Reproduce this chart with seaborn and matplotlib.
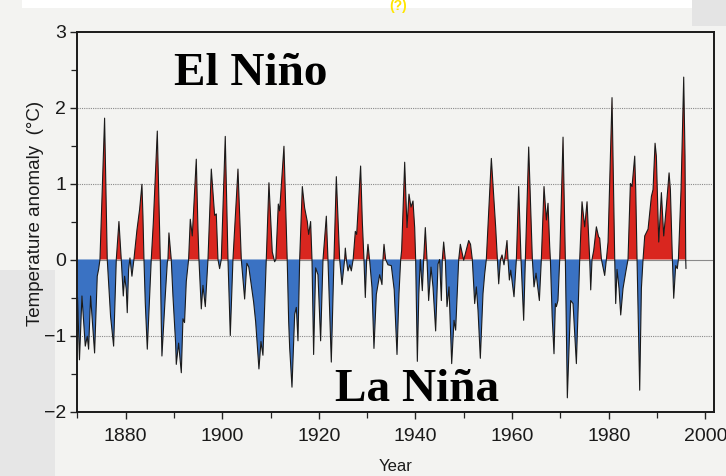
import numpy as np
import pandas as pd
import matplotlib
matplotlib.use("Agg")
import matplotlib.pyplot as plt
from matplotlib.patches import Rectangle
from matplotlib.ticker import MultipleLocator
import seaborn as sns

# Sea-surface temperature anomaly record: turning points of the series
years = [
    1870.05, 1870.45, 1870.96, 1871.65, 1872.06, 1872.34, 1872.75, 1873.58, 1874.13, 1874.41,
    1874.69, 1875.65, 1876.20, 1876.89, 1877.52, 1878.07, 1878.62, 1879.10, 1879.52, 1879.79,
    1880.14, 1880.34, 1880.62, 1880.90, 1881.31, 1881.72, 1881.86, 1882.35, 1882.90, 1883.38,
    1883.59, 1883.80, 1884.07, 1884.49, 1885.31, 1885.73, 1886.56, 1887.18, 1887.38, 1887.52,
    1888.21, 1888.63, 1888.76, 1888.97, 1889.45, 1889.80, 1890.35, 1890.49, 1890.97, 1891.53,
    1891.87, 1892.20, 1892.56, 1893.04, 1893.39, 1893.80, 1894.63, 1894.98, 1895.18, 1895.67,
    1896.01, 1896.50, 1897.05, 1897.74, 1898.43, 1898.77, 1899.12, 1899.46, 1899.81, 1900.63,
    1901.19, 1901.67, 1902.22, 1903.26, 1903.95, 1904.64, 1905.10, 1905.50, 1906.50, 1906.92,
    1907.60, 1908.02, 1908.43, 1909.12, 1909.67, 1910.36, 1910.85, 1911.10, 1911.61, 1911.88,
    1912.78, 1913.45, 1913.75, 1913.96, 1914.44, 1915.00, 1915.34, 1915.68, 1916.03, 1916.58,
    1917.06, 1917.61, 1917.89, 1918.30, 1918.58, 1918.92, 1919.34, 1919.82, 1920.37, 1920.86,
    1921.55, 1921.89, 1922.58, 1923.13, 1923.62, 1924.31, 1924.79, 1925.34, 1925.48, 1925.70,
    1926.03, 1926.40, 1926.72, 1927.10, 1927.55, 1927.83, 1928.65, 1929.00, 1929.34, 1929.62,
    1929.90, 1930.17, 1930.50, 1931.00, 1931.41, 1931.90, 1932.59, 1933.07, 1933.27, 1933.49,
    1933.83, 1934.31, 1935.00, 1935.60, 1936.18, 1936.59, 1936.94, 1937.14, 1937.77, 1938.25,
    1938.66, 1939.08, 1939.49, 1939.84, 1940.04, 1940.39, 1940.70, 1941.00, 1941.42, 1941.70,
    1942.04, 1942.39, 1942.73, 1943.22, 1943.63, 1944.18, 1944.67, 1945.00, 1945.36, 1945.56,
    1945.84, 1946.18, 1946.53, 1946.94, 1947.50, 1947.98, 1948.32, 1948.95, 1949.29, 1949.98,
    1951.02, 1951.40, 1951.77, 1952.26, 1952.60, 1952.95, 1953.43, 1953.98, 1954.33, 1954.67,
    1955.71, 1956.61, 1956.95, 1957.23, 1957.60, 1957.92, 1958.33, 1958.95, 1959.16, 1959.44,
    1959.72, 1960.40, 1960.89, 1961.37, 1961.85, 1962.40, 1962.75, 1963.44, 1963.99, 1964.20,
    1964.54, 1964.96, 1965.65, 1966.06, 1966.61, 1967.10, 1967.44, 1967.79, 1967.93, 1968.30,
    1968.68, 1968.96, 1969.17, 1969.50, 1969.86, 1970.55, 1971.03, 1971.44, 1972.13, 1972.62,
    1973.31, 1974.00, 1974.48, 1975.03, 1975.52, 1976.07, 1976.28, 1976.55, 1976.90, 1977.45,
    1977.90, 1978.14, 1978.50, 1979.17, 1979.52, 1979.87, 1980.35, 1980.69, 1981.25, 1981.45,
    1981.73, 1982.14, 1982.49, 1982.97, 1983.52, 1984.00, 1984.49, 1984.83, 1985.39, 1985.60,
    1985.87, 1986.42, 1986.77, 1987.11, 1987.46, 1988.15, 1988.84, 1989.18, 1989.60, 1989.87,
    1990.36, 1990.91, 1991.39, 1991.94, 1992.50, 1992.77, 1993.19, 1993.46, 1993.87, 1994.20,
    1994.43, 1994.98, 1995.53, 1995.80, 1995.95, 1996.00,
]
anomaly = [
    -0.50, -1.32, -0.48, -1.14, -1.01, -1.18, -0.48, -1.23, -0.22, -0.13,
    0.00, 1.86, 0.00, -0.75, -1.14, 0.00, 0.50, 0.00, -0.48, -0.22,
    -0.39, -0.70, -0.13, 0.02, -0.22, 0.00, 0.09, 0.39, 0.66, 0.99,
    0.57, 0.00, -0.57, -1.18, 0.00, 0.48, 1.69, 0.00, -0.83, -1.27,
    -0.48, -0.04, 0.00, 0.35, 0.00, -0.48, -1.10, -1.38, -1.10, -1.49,
    -0.78, -0.83, -0.29, 0.00, 0.53, 0.31, 1.32, 0.40, 0.00, -0.65,
    -0.34, -0.62, 0.00, 1.19, 0.58, 0.60, 0.00, -0.12, 0.00, 1.62,
    0.00, -1.00, 0.00, 1.19, 0.00, -0.52, -0.05, -0.10, -0.56, -0.82,
    -1.44, -1.08, -1.26, 0.00, 1.01, 0.10, -0.03, 0.00, 0.73, 0.64,
    1.49, 0.00, -0.81, -1.16, -1.68, -0.72, -0.63, -1.07, 0.00, 0.96,
    0.68, 0.50, 0.33, 0.50, 0.00, -1.25, -0.11, -0.20, -1.07, 0.00,
    0.57, 0.00, -1.35, 0.00, 1.09, 0.00, -0.33, 0.00, 0.15, 0.00,
    -0.15, -0.07, -0.15, 0.00, 0.37, 0.33, 1.23, 0.50, 0.00, -0.50,
    0.00, 0.20, 0.00, -0.37, -1.17, -0.46, -0.20, -0.33, 0.00, 0.20,
    0.00, -0.07, -0.08, -0.40, -1.25, -0.45, 0.00, 0.12, 1.28, 0.42,
    0.86, 0.69, 0.77, 0.42, 0.00, -1.34, -0.45, 0.00, -0.41, 0.00,
    0.42, 0.00, -0.54, -0.10, -0.36, -0.94, -0.06, 0.00, -0.54, 0.00,
    0.23, 0.00, -0.62, -0.36, -1.37, -0.80, -0.93, 0.00, 0.20, -0.01,
    0.25, 0.20, 0.00, -0.58, -0.36, -0.67, -1.30, -0.45, -0.19, 0.00,
    1.33, 0.42, 0.00, -0.32, 0.00, 0.06, -0.07, 0.25, 0.00, -0.27,
    -0.14, -0.49, 0.00, 0.96, 0.00, -0.80, 0.00, 1.48, 0.43, 0.00,
    -0.36, -0.18, -0.54, 0.00, 0.96, 0.52, 0.74, 0.17, 0.00, -0.75,
    -1.24, -0.58, -0.62, -0.54, 0.00, 1.61, 0.00, -1.82, -0.54, -0.58,
    -1.37, 0.00, 0.76, 0.43, 0.76, 0.00, -0.40, 0.00, 0.12, 0.43,
    0.30, 0.28, 0.00, -0.21, 0.00, 0.23, 1.36, 2.13, 0.00, -0.58,
    -0.13, -0.38, -0.73, -0.38, -0.17, 0.00, 1.00, 0.96, 1.36, 0.92,
    0.00, -1.72, -0.38, 0.00, 0.31, 0.40, 0.83, 0.92, 1.53, 1.36,
    0.23, 0.88, 0.31, 0.70, 1.14, 0.92, 0.00, -0.51, -0.08, -0.12,
    0.00, 0.92, 2.40, 1.36, 0.00, -0.12,
]

y_ticks = [-2, -1, 0, 1, 2, 3]
y_tick_labels = ["\u22122", "\u22121", "0", "1", "2", "3"]
x_ticks = [1880, 1900, 1920, 1940, 1960, 1980, 2000]
grid_levels = [2, 1, -1]

df = pd.DataFrame({"Year": years, "Anomaly": anomaly})

paper = "#f3f3f1"
warm = "#d9261f"
cold = "#3a72c3"

sns.set_theme(style="ticks")
plt.rcParams["font.family"] = ["Liberation Sans", "DejaVu Sans"]

fig = plt.figure(figsize=(7.26, 4.76), dpi=100, facecolor=paper)

# slide background pieces around the scanned figure
fig.patches.append(Rectangle((0, 0), 55 / 726, 206 / 476, transform=fig.transFigure,
                             facecolor="#e6e6e6", edgecolor="none", zorder=0))
fig.patches.append(Rectangle((22 / 726, 468 / 476), 670 / 726, 8 / 476, transform=fig.transFigure,
                             facecolor="white", edgecolor="none", zorder=0))
fig.patches.append(Rectangle((692 / 726, 450 / 476), 34 / 726, 26 / 476, transform=fig.transFigure,
                             facecolor="#e4e4e4", edgecolor="none", zorder=0))
fig.text(398 / 726, 1 - 6 / 476, "(?)", color="#ffe600", fontsize=10, fontweight="bold",
         ha="center", va="center", zorder=1)

ax = fig.add_axes([77.3 / 726, 1 - 411.5 / 476, (714 - 77.3) / 726, 380 / 476])
ax.set_zorder(2)
ax.set_facecolor(paper)

x = df["Year"].to_numpy()
y = df["Anomaly"].to_numpy()
ax.fill_between(x, y, 0, where=y >= 0, interpolate=True, color=warm, linewidth=0, zorder=2)
ax.fill_between(x, y, 0, where=y <= 0, interpolate=True, color=cold, linewidth=0, zorder=2)
sns.lineplot(data=df, x="Year", y="Anomaly", ax=ax, color="#1a1a1a", linewidth=0.8,
             sort=False, estimator=None, zorder=3)

for g in grid_levels:
    ax.axhline(g, color="#8a8a8a", linewidth=0.8, linestyle=(0, (1, 1)), zorder=1)
ax.axhline(0, color="#8a8a8a", linewidth=0.8, zorder=1)

ax.set_xlim(1870, 2001.8)
ax.set_ylim(-2, 3)
ax.set_xticks(x_ticks)
ax.set_yticks(y_ticks)
ax.set_yticklabels(y_tick_labels)
ax.xaxis.set_minor_locator(MultipleLocator(10))
ax.yaxis.set_minor_locator(MultipleLocator(0.5))
ax.tick_params(axis="both", which="major", direction="out", length=5, width=1,
               labelsize=14, color="#222222", labelcolor="#1a1a1a")
ax.tick_params(axis="x", which="major", pad=7)
ax.tick_params(axis="y", which="major", pad=3)
ax.tick_params(axis="both", which="minor", direction="out", length=4, width=0.9, color="#222222")

for side in ["left", "bottom", "top", "right"]:
    ax.spines[side].set_visible(True)
    ax.spines[side].set_color("#1a1a1a")
    ax.spines[side].set_linewidth(1.4)

ax.set_xlabel("Year", fontsize=12, color="#1a1a1a", labelpad=10)
ax.set_ylabel("Temperature anomaly  (\u00b0C)", fontsize=13.5, color="#1a1a1a")
ax.yaxis.set_label_coords(-0.052, 0.52)

ax.text(1890.1, 2.29, "El Niño", fontsize=34, fontweight="bold", color="black",
        family=["Liberation Serif", "DejaVu Serif"], ha="left", va="baseline", zorder=5)
ax.text(1923.3, -1.86, "La Niña", fontsize=34, fontweight="bold", color="black",
        family=["Liberation Serif", "DejaVu Serif"], ha="left", va="baseline", zorder=5)

fig.savefig("out.png", dpi=100, facecolor=fig.get_facecolor())
